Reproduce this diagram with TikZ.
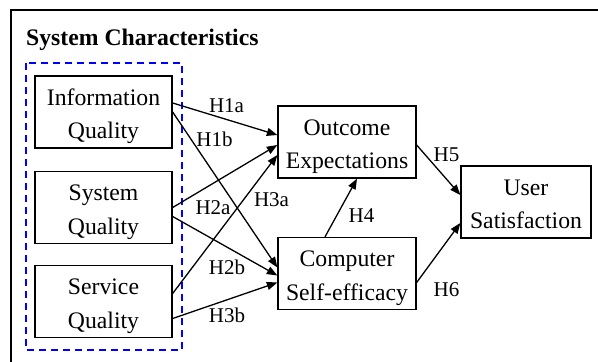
\documentclass[tikz,border=0pt]{standalone}
\usepackage{fontspec}
\setmainfont{Liberation Serif}
\usetikzlibrary{arrows.meta,calc}
\newcommand\mybxlines[2]{\rule{0pt}{25.6pt}#1\\#2\rule[-6pt]{0pt}{6pt}}
\begin{document}
\begin{tikzpicture}[x=1pt,y=-1pt,
  box/.style={draw,line width=1.3pt,minimum width=137pt,minimum height=72pt,inner sep=0pt,align=center,
    font=\fontsize{23.7}{33.4}\selectfont},
  lbl/.style={inner sep=0pt,font=\fontsize{21}{24}\selectfont},
  arr/.style={line width=1.3pt,-{Triangle[length=10.5pt,width=8pt]}}]
\useasboundingbox (0,0) rectangle (598,362);
\begin{scope}
\clip (0,0) rectangle (598,362);
\draw[line width=1.8pt] (11,10) rectangle (620,380);
\end{scope}
\node[anchor=base west,inner sep=0pt,font=\fontsize{23.7}{28}\selectfont\bfseries] (title) at (26,45) {System Characteristics};
\draw[blue,line width=1.3pt,dash pattern=on 7pt off 5pt] (26,63) rectangle (182,350);
\node[box] (iq) at (103.5,112) {\mybxlines{Information}{Quality}};
\node[box] (sq) at (103.5,207.5) {\mybxlines{System}{Quality}};
\node[box] (vq) at (103.5,301.5) {\mybxlines{Service}{Quality}};
\node[box,minimum width=138pt] (oe) at (347,142) {\mybxlines{Outcome}{Expectations}};
\node[box,minimum width=138pt] (cs) at (347,273.5) {\mybxlines{Computer}{Self-efficacy}};
\node[box,minimum width=130pt] (us) at (526,202) {\mybxlines{User}{Satisfaction}};
\draw[arr] ($(iq.east)+(0,-9)$) -- ($(oe.west)+(0,-7)$);
\draw[arr] ($(iq.east)+(0,0)$) -- ($(cs.west)+(0,-6)$);
\draw[arr] ($(sq.east)+(0,0)$) -- ($(oe.west)+(0,3)$);
\draw[arr] ($(sq.east)+(0,9)$) -- ($(cs.west)+(0,2)$);
\draw[arr] ($(vq.east)+(0,-8)$) -- ($(oe.west)+(0,13)$);
\draw[arr] ($(vq.east)+(0,17)$) -- ($(cs.west)+(0,9)$);
\draw[arr] ($(cs.north)+(-22,0)$) -- ($(oe.south)+(10,0)$);
\draw[arr] ($(oe.east)+(0,3)$) -- ($(us.west)+(0,-7)$);
\draw[arr] ($(cs.east)+(0,9)$) -- ($(us.west)+(0,21)$);
\node[lbl] (h1a) at (226.5,105.5) {H1a};
\node[lbl] (h1b) at (214.5,139.5) {H1b};
\node[lbl] (h2a) at (213,207.5) {H2a};
\node[lbl] (h3a) at (271.5,199.5) {H3a};
\node[lbl] (h2b) at (227,267.5) {H2b};
\node[lbl] (h3b) at (227,315.5) {H3b};
\node[lbl] (h4) at (361.5,215.5) {H4};
\node[lbl] (h5) at (446.5,154.5) {H5};
\node[lbl] (h6) at (446.5,289.5) {H6};
\end{tikzpicture}
\end{document}
